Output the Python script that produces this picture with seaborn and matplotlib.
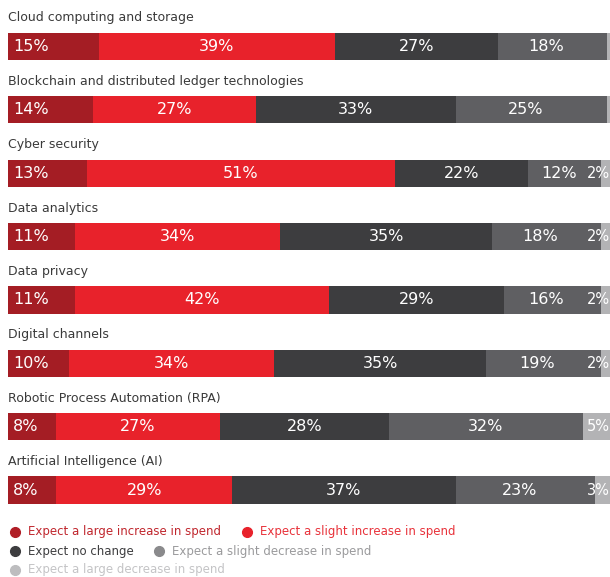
import matplotlib
matplotlib.use("Agg")
import matplotlib.pyplot as plt
import seaborn as sns
import pandas as pd
import numpy as np
from matplotlib.lines import Line2D

categories = [
    "Cloud computing and storage",
    "Blockchain and distributed ledger technologies",
    "Cyber security",
    "Data analytics",
    "Data privacy",
    "Digital channels",
    "Robotic Process Automation (RPA)",
    "Artificial Intelligence (AI)",
]
series_names = [
    "Expect a large increase in spend",
    "Expect a slight increase in spend",
    "Expect no change",
    "Expect a slight decrease in spend",
    "Expect a large decrease in spend",
]
large_inc = [15, 14, 13, 11, 11, 10, 8, 8]
slight_inc = [39, 27, 51, 34, 42, 34, 27, 29]
no_change = [27, 33, 22, 35, 29, 35, 28, 37]
slight_dec = [18, 25, 12, 18, 16, 19, 32, 23]
large_dec = [1, 1, 2, 2, 2, 2, 5, 3]

colors = ["#a41d24", "#e8222b", "#3d3d3f", "#5f5f62", "#b3b3b5"]
legend_marker_colors = ["#b01e26", "#e8222b", "#3d3d3f", "#8a8a8c", "#bdbdbf"]
legend_text_colors = ["#c0262d", "#e8323a", "#3d3d3f", "#9a9a9c", "#c4c4c6"]

series_values = [large_inc, slight_inc, no_change, slight_dec, large_dec]

rows = []
for s_idx, (name, vals) in enumerate(zip(series_names, series_values)):
    for c_idx, cat in enumerate(categories):
        cum = sum(series_values[k][c_idx] for k in range(s_idx + 1))
        rows.append(dict(category=cat, series=name, value=vals[c_idx], end=cum,
                         start=cum - vals[c_idx]))
df = pd.DataFrame(rows)

W, H, DPI = 610, 577, 100
fig = plt.figure(figsize=(W / DPI, H / DPI), dpi=DPI)
sns.set_style("white")
ax = fig.add_axes([8 / W, 1 - 510 / H, 1 - 8 / W, 510 / H])

XMAX = 99.5
bar_w = 0.43
for s_idx in reversed(range(len(series_names))):
    sub = df[df.series == series_names[s_idx]]
    sns.barplot(data=sub, x="end", y="category", order=categories, orient="h",
                color=colors[s_idx], saturation=1, width=bar_w, linewidth=0,
                edgecolor="none", ax=ax, errorbar=None)

for _, r in df.iterrows():
    i = categories.index(r.category)
    s_idx = series_names.index(r.series)
    if r.value < 2:
        continue
    label = f"{r.value}%"
    if s_idx == 0:
        ax.text(0.8, i, label, ha="left", va="center", color="white",
                fontsize=11.5)
    elif (r.start + r.end) / 2 + 2.2 > XMAX:
        ax.text(XMAX - 0.05, i, label, ha="right", va="center",
                color="white", fontsize=10.5)
    else:
        ax.text((r.start + r.end) / 2 - (1.0 if r.end > 95 else 0), i, label,
                ha="center", va="center", color="white", fontsize=11.5)

for i, cat in enumerate(categories):
    ax.text(0, i - 0.45, cat, ha="left", va="center", color="#3a3a3a", fontsize=9)

ax.set_xlim(0, XMAX)
ax.set_ylim(7.315, -0.733)
ax.set_xlabel("")
ax.set_ylabel("")
ax.set_xticks([])
ax.set_yticks([])
for sp in ax.spines.values():
    sp.set_visible(False)

# legend (flow layout)
legend_layout = [
    (0, 15, 532), (1, 247, 532),
    (2, 15, 551), (3, 159, 551),
    (4, 15, 570),
]
for s_idx, xp, yp in legend_layout:
    fig.add_artist(Line2D([xp / W], [1 - yp / H], marker="o", markersize=7,
                          color=legend_marker_colors[s_idx], linestyle="none",
                          transform=fig.transFigure))
    fig.text((xp + 13) / W, 1 - yp / H, series_names[s_idx], ha="left", va="center",
             color=legend_text_colors[s_idx], fontsize=8.5)

fig.savefig("out.png", dpi=DPI)
